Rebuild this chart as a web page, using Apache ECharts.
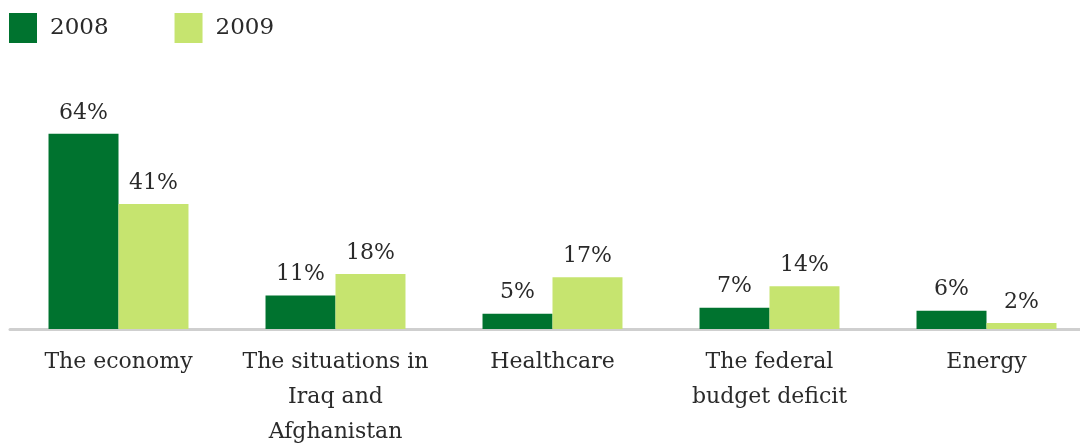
<!DOCTYPE html>
<html><head><meta charset="utf-8">
<script src="https://cdn.jsdelivr.net/npm/echarts@6/dist/echarts.min.js"></script>
<style>html,body{margin:0;padding:0;background:#fff}#c{width:1080px;height:446px}</style>
</head><body><div id="c"></div>
<script>
const categories = ['The economy', 'The situations in\nIraq and\nAfghanistan', 'Healthcare', 'The federal\nbudget deficit', 'Energy'];
const values2008 = [64, 11, 5, 7, 6];
const values2009 = [41, 18, 17, 14, 2];
const seriesNames = ['2008', '2009'];

const FONT = 'DejaVu Serif';
const chart = echarts.init(document.getElementById('c'));
chart.setOption({
  animation: false,
  legend: {
    left: 9, top: 13, padding: 0,
    itemWidth: 28, itemHeight: 30, itemGap: 66,
    icon: 'rect',
    textStyle: { fontFamily: FONT, fontSize: 23, color: '#2a2a2a', padding: [1,0,0,8] },
    data: seriesNames
  },
  grid: { left: 10, width: 1085, top: 24, bottom: 117, outerBoundsMode: 'none', containLabel: false },
  xAxis: {
    type: 'category', data: categories,
    axisLine: { lineStyle: { color: '#cfcfcf', width: 3 } },
    axisTick: { show: false },
    axisLabel: { fontFamily: FONT, fontSize: 22, color: '#2a2a2a', lineHeight: 35, margin: 16, interval: 0 }
  },
  yAxis: { type: 'value', min: 0, max: 100, show: false, splitLine: { show: false } },
  series: [
    { name: seriesNames[0], type: 'bar', data: values2008, barGap: '0%', barCategoryGap: '35.5%',
      itemStyle: { color: '#00732f' },
      label: { show: true, position: 'top', distance: 10, formatter: '{c}%', fontFamily: FONT, fontSize: 22, color: '#2a2a2a' } },
    { name: seriesNames[1], type: 'bar', data: values2009, barGap: '0%', barCategoryGap: '35.5%',
      itemStyle: { color: '#c6e46f' },
      label: { show: true, position: 'top', distance: 10, formatter: '{c}%', fontFamily: FONT, fontSize: 22, color: '#2a2a2a' } }
  ]
});
</script></body></html>
